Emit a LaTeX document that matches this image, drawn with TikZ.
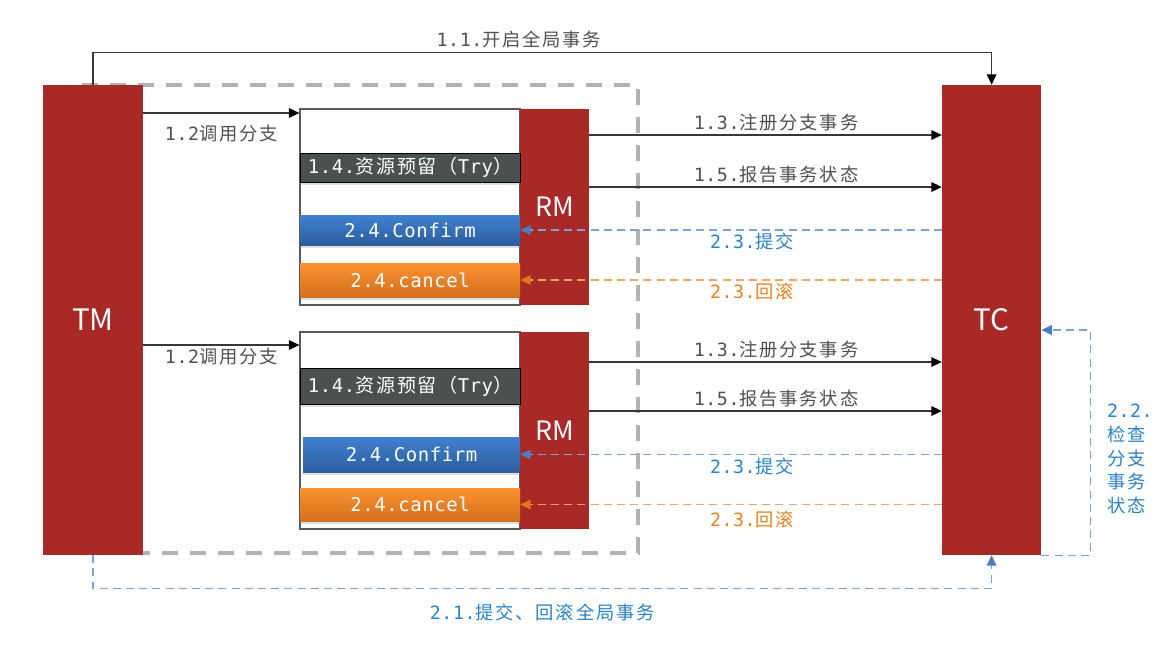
\documentclass[tikz,border=0pt]{standalone}
\usepackage{fontspec}
\setmainfont{DejaVu Sans Mono}[LetterSpace=3]
\newfontfamily\cjk{Noto Sans CJK SC}[LetterSpace=10]
\newfontfamily\capfont{Noto Sans CJK SC}
\usetikzlibrary{arrows.meta, shadows}

\definecolor{tmred}{RGB}{169,41,38}
\definecolor{labelgray}{RGB}{80,80,80}
\definecolor{linegray}{RGB}{55,55,55}
\definecolor{framegray}{RGB}{178,178,178}
\definecolor{trygray}{RGB}{75,80,80}
\definecolor{boxgray}{RGB}{90,90,90}
\definecolor{oktop}{RGB}{64,128,208}
\definecolor{okbot}{RGB}{45,94,158}
\definecolor{notop}{RGB}{250,146,48}
\definecolor{nobot}{RGB}{212,112,30}
\definecolor{commitblue}{RGB}{42,130,200}
\definecolor{commitline}{RGB}{122,165,216}
\definecolor{committip}{RGB}{74,124,192}
\definecolor{rollorange}{RGB}{232,128,32}
\definecolor{rollline}{RGB}{242,164,98}
\definecolor{rolltip}{RGB}{226,118,30}

\newcommand{\zh}[1]{{\cjk #1}}
\newcommand{\lblfont}{\fontsize{13}{15}\selectfont}
\newcommand{\boxfont}{\fontsize{13.5}{16}\selectfont}

\begin{document}
\begin{tikzpicture}[y=-1cm]

% ---------------- styles ----------------
\tikzset{
  party/.style  ={fill=tmred, text=white, inner sep=0pt, minimum width=2.5cm,
                  minimum height=11.75cm, font=\capfont\fontsize{21}{24}\selectfont},
  rmbar/.style  ={fill=tmred, text=white, inner sep=0pt, minimum width=1.725cm,
                  font=\capfont\fontsize{19}{22}\selectfont},
  branch/.style ={draw=boxgray, line width=0.9pt, fill=white, inner sep=0pt,
                  minimum width=5.5cm},
  shade/.style  ={drop shadow={shadow xshift=0pt, shadow yshift=-0.07cm, opacity=0.25}},
  trybox/.style ={draw=black, line width=0.7pt, fill=trygray, text=white, inner sep=0pt,
                  minimum width=5.5cm, font=\boxfont, shade},
  okbox/.style  ={top color=oktop, bottom color=okbot, text=white, inner sep=0pt,
                  minimum width=5.5cm, font=\boxfont, shade},
  nobox/.style  ={top color=notop, bottom color=nobot, text=white, inner sep=0pt,
                  minimum width=5.5cm, font=\boxfont, shade},
  lbl/.style    ={text=labelgray, font=\lblfont, inner sep=2pt},
  bluelbl/.style={text=commitblue, font=\lblfont, inner sep=2pt},
  orglbl/.style ={text=rollorange, font=\lblfont, inner sep=2pt},
  frame/.style  ={draw=framegray, line width=2.2pt, dash pattern=on 0.4cm off 0.3cm},
  blk/.style    ={draw=linegray, line width=0.9pt,
                  -{Triangle[length=0.26cm, width=0.24cm, color=black]}},
  okdash/.style ={draw=commitline, line width=0.9pt, dash pattern=on 0.2cm off 0.13cm,
                  -{Triangle[length=0.26cm, width=0.24cm, color=committip]}},
  nodash/.style ={draw=rollline, line width=0.9pt, dash pattern=on 0.2cm off 0.13cm,
                  -{Triangle[length=0.26cm, width=0.24cm, color=rolltip]}}
}

\useasboundingbox (0,0) rectangle (29.375,16.5);

% ---------------- frame round the branches ----------------
\draw[frame] (1.75,2.125) rectangle (15.95,13.825);

% ---------------- TM and TC ----------------
\node[party] (TM) at (2.325,8.0) {TM};
\node[party, minimum width=2.475cm] (TC) at (24.79,8.0) {TC};

% ---------------- branch 1 ----------------
\node[branch, minimum height=4.9cm] (br1) at (10.25,5.175) {};
\node[rmbar, minimum height=4.9cm] (rm1) at (13.8625,5.175) {RM};
\node[trybox, minimum height=0.725cm] (try1) at (10.25,4.1875) {1.4.\zh{资源预留（}Try\zh{）}};
\node[okbox, minimum height=0.75cm] (ok1) at (10.25,5.75) {2.4.Confirm};
\node[nobox, minimum height=0.85cm] (no1) at (10.25,7.0) {2.4.cancel};

% ---------------- branch 2 ----------------
\node[branch, minimum height=4.925cm] (br2) at (10.25,10.7625) {};
\node[rmbar, minimum height=4.925cm] (rm2) at (13.8625,10.7625) {RM};
\node[trybox, minimum height=0.9cm] (try2) at (10.25,9.65) {1.4.\zh{资源预留（}Try\zh{）}};
\node[okbox, minimum height=0.875cm, minimum width=5.425cm] (ok2) at (10.2875,11.3625) {2.4.Confirm};
\node[nobox, minimum height=0.825cm] (no2) at (10.25,12.6125) {2.4.cancel};

% ---------------- global begin / end ----------------
\draw[blk] (TM.north) -- ++(0,-0.8)
  -| node[lbl, pos=0.237, above=1pt] {1.1.\zh{开启全局事务}} (TC.north);
\draw[okdash] (TM.south) -- ++(0,0.825)
  -| node[bluelbl, pos=0.25, below=9pt] {2.1.\zh{提交、回滚全局事务}} (TC.south);
\draw[okdash] (TC.south east) -- ++(1.225,0) |- ([yshift=-0.25cm]TC.east);
\node[bluelbl, anchor=west, align=left, font=\fontsize{13}{17}\selectfont] (chk)
  at (27.6,11.475) {2.2.\\\zh{检查}\\\zh{分支}\\\zh{事务}\\\zh{状态}};

% ---------------- calls of branch 1 ----------------
\draw[blk] (TM.east |- 0,2.825) -- node[lbl, below=6pt] {1.2\zh{调用分支}} (br1.west |- 0,2.825);
\draw[blk] (rm1.east |- 0,3.375) -- node[lbl, pos=0.53, above=0pt] {1.3.\zh{注册分支事务}} (TC.west |- 0,3.375);
\draw[blk] (rm1.east |- 0,4.675) -- node[lbl, pos=0.53, above=0pt] {1.5.\zh{报告事务状态}} (TC.west |- 0,4.675);
\draw[okdash] (TC.west |- ok1) -- node[bluelbl, pos=0.45, below=0pt] {2.3.\zh{提交}} (ok1.east);
\draw[nodash] (TC.west |- no1) -- node[orglbl, pos=0.45, below=0pt] {2.3.\zh{回滚}} (no1.east);

% ---------------- calls of branch 2 ----------------
\draw[blk] (TM.east |- 0,8.625) -- node[lbl, below=0pt] {1.2\zh{调用分支}} (br2.west |- 0,8.625);
\draw[blk] (rm2.east |- 0,9.05) -- node[lbl, pos=0.53, above=0pt] {1.3.\zh{注册分支事务}} (TC.west |- 0,9.05);
\draw[blk] (rm2.east |- 0,10.275) -- node[lbl, pos=0.53, above=0pt] {1.5.\zh{报告事务状态}} (TC.west |- 0,10.275);
\draw[okdash] (TC.west |- ok2) -- node[bluelbl, pos=0.45, below=0pt] {2.3.\zh{提交}} (ok2.east);
\draw[nodash] (TC.west |- no2) -- node[orglbl, pos=0.45, below=2pt] {2.3.\zh{回滚}} (no2.east);

\end{tikzpicture}
\end{document}
